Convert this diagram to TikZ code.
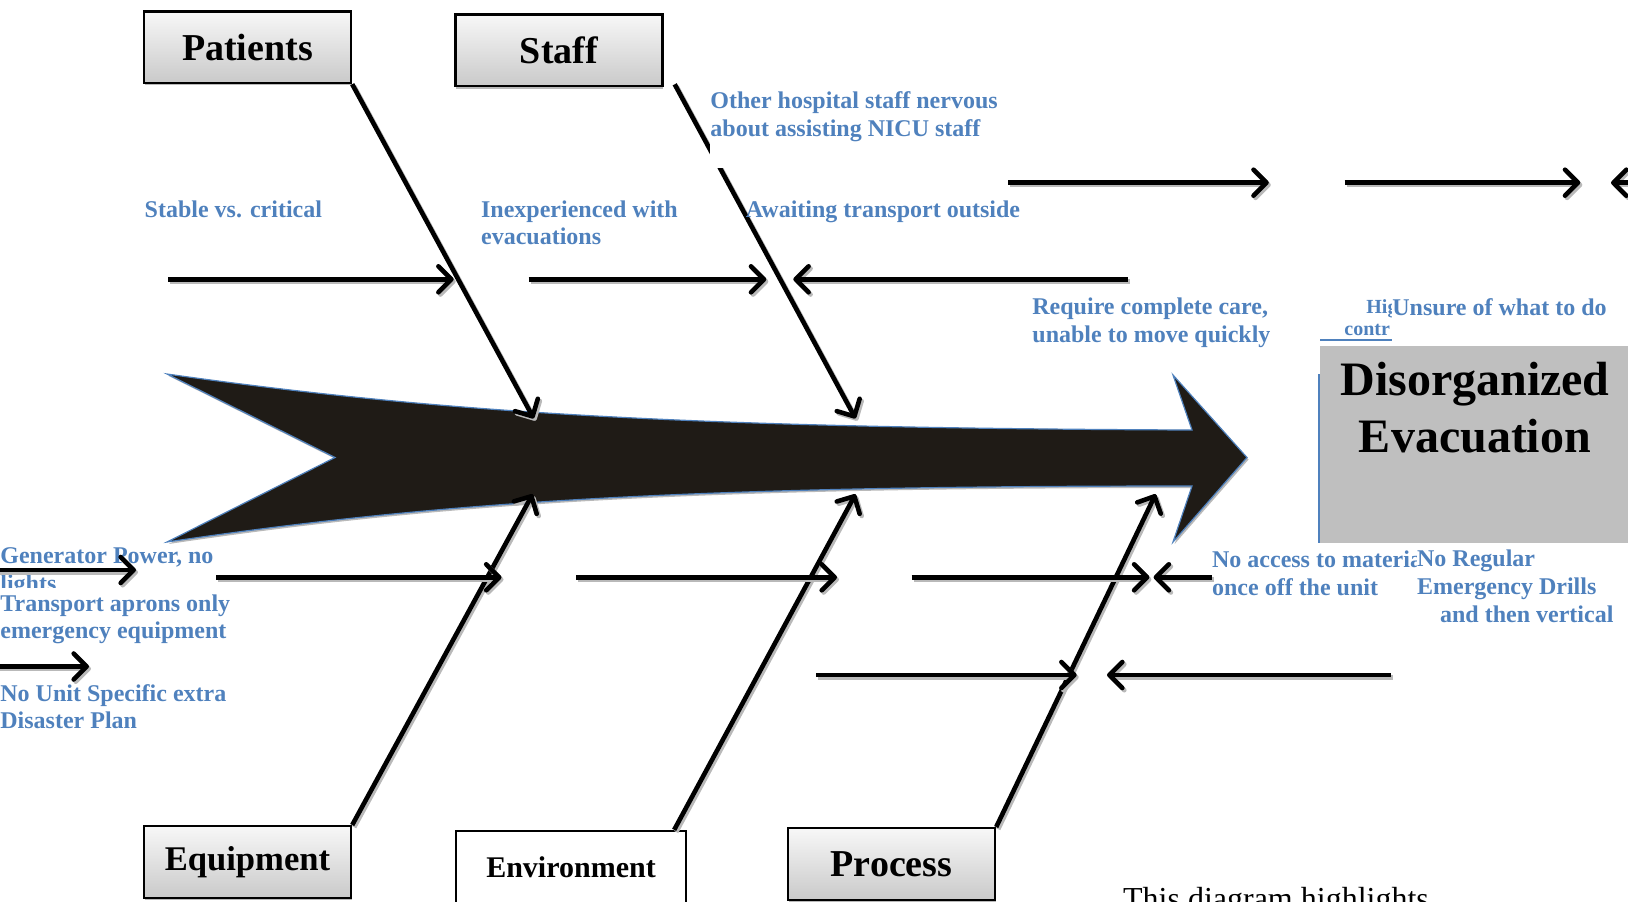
\documentclass[tikz,border=0pt]{standalone}
\usepackage{fontspec}
\setmainfont{Liberation Serif}
\usetikzlibrary{arrows.meta,calc}
\definecolor{fishblue}{RGB}{79,129,189}
\definecolor{bodyfill}{RGB}{31,27,22}
\definecolor{effectgray}{RGB}{191,191,191}
\tikzset{
  cat/.style={draw=black, line width=1.2pt, top color=gray!6, bottom color=gray!42,
    minimum width=103.5pt, minimum height=35.8pt, inner sep=0pt,
    font=\fontsize{19}{21}\selectfont\bfseries,
    preaction={fill=gray!55, transform canvas={shift={(0.4pt,-1.2pt)}}}},
  lbl/.style={text=fishblue, font=\fontsize{12}{13.8}\selectfont\bfseries,
    align=left, inner sep=0pt, anchor=base west, yshift=-1pt},
  smalllbl/.style={text=fishblue, font=\fontsize{10}{11}\selectfont\bfseries,
    inner sep=0pt, anchor=base west},
  rib/.style={line width=2.3pt, -{Straight Barb[length=6.5pt,width=13pt,round]}},
  shadowed/.style={preaction={draw=gray!55, line width=2.3pt, transform canvas={shift={(1pt,-1.1pt)}}}},
}
\begin{document}
\begin{tikzpicture}[x=0.5pt,y=-0.5pt]
\useasboundingbox (0,0) rectangle (1628,901);
\clip (0,0) rectangle (1628,901);

% fish body
\path[fill=gray!55, transform canvas={shift={(0.8pt,-1pt)}}]
  (167,374) .. controls (450,414) and (700,428) .. (1192,430) -- (1173,375) -- (1247,457.5)
  -- (1173,542) -- (1192,486) .. controls (700,486) and (450,500) .. (167,542) -- (335,457.5) -- cycle;
\path[fill=bodyfill, draw=fishblue, line width=0.6pt]
  (167,374) .. controls (450,414) and (700,428) .. (1192,430) -- (1173,375) -- (1247,457.5)
  -- (1173,542) -- (1192,486) .. controls (700,486) and (450,500) .. (167,542) -- (335,457.5) -- cycle;

% effect box
\node[fill=effectgray, minimum width=154pt, minimum height=98.2pt, anchor=north west, inner sep=0pt] (effect) at (1320,345.7) {};
\draw[fishblue, line width=0.8pt] (1319,374) -- (1319,542.7);
\draw[fishblue, line width=0.8pt] (1320,340) -- (1392,340);
\node[font=\fontsize{24}{28.5}\selectfont\bfseries, align=center, inner sep=0pt] (effecttext) at (1475,408) {Disorganized\\Evacuation};

% category boxes
\node[cat] (pat) at (247.5,47.2) {Patients};
\node[cat] (staff) at (559,50.3) {Staff};
\node[cat, font=\fontsize{17.3}{20}\selectfont\bfseries] (equip) at (247.5,862) {Equipment};
\node[draw=black, line width=1.2pt, fill=white, minimum width=115pt, minimum height=36pt, inner sep=0pt,
  font=\fontsize{15}{17}\selectfont\bfseries] (env) at (571,867) {Environment};
\node[cat] (proc) at (891.5,864) {Process};

% tips on the spine
\coordinate (pt1) at (533.7,418.4);
\coordinate (st1) at (855.5,418.4);
\coordinate (eq1) at (532.6,494.2);
\coordinate (en1) at (855.5,494.2);
\coordinate (pr1) at (1155.6,494.2);

% main bones
\draw[rib, shadowed] (pat.south east) -- (pt1);
\draw[rib, shadowed] ($(staff.south east)+(11,-3)$) -- (st1);
\draw[rib, shadowed] (equip.north east) -- (eq1);
\draw[rib, shadowed] ($(env.north east)+(-13,0)$) -- (en1);
\draw[rib, shadowed] (proc.north east) -- (pr1);

% texts that get partly covered
\node[smalllbl] (hig) at (1366,313) {Hig};
\node[smalllbl] (contr) at (1344,335) {contr};
\node[lbl] (access) at (1211.7,593) {No access to materials\\once off the unit};
\node[lbl] (gen) at (0,589.5) {Generator Power, no\\lights};

% covering text boxes
\fill[white] (710,86) rectangle (1010,168);
\fill[white] (1392,288) rectangle (1628,344);
\fill[white] (1416.7,544) rectangle (1628,632);
\fill[white] (0,588) rectangle (240,648);

% labels (anchored at the baseline of their last line)
\node[lbl] (other) at (710,134) {Other hospital staff nervous\\about assisting NICU staff};
\node[lbl] (stable) at (144.3,215.7) {Stable vs. critical};
\node[lbl] (inexp) at (480.7,242.7) {Inexperienced with\\evacuations};
\node[lbl] (await) at (745.5,215.7) {Awaiting transport outside};
\node[lbl] (require) at (1032,340.3) {Require complete care,\\unable to move quickly};
\node[lbl] (unsure) at (1392,313) {Unsure of what to do};
\node[lbl] (drills) at (1416.7,620) {No Regular\\Emergency Drills\\\hspace*{11.5pt}and then vertical};
\node[lbl] (aprons) at (0,636.7) {Transport aprons only\\emergency equipment};
\node[lbl] (plan) at (0,726.7) {No Unit Specific extra\\Disaster Plan};
\node[font=\fontsize{16}{19}\selectfont, anchor=base west, inner sep=0pt] (note) at (1122.7,909) {This diagram highlights};

% cause arrows
\coordinate (h1a) at (168,279.3);    \coordinate (h1b) at (453.7,279.3);
\coordinate (h2a) at (528.5,279.3);  \coordinate (h2b) at (766.3,279.3);
\coordinate (h3a) at (1127.6,279.3); \coordinate (h3b) at (793.3,279.3);
\coordinate (t1a) at (1008,182.7);   \coordinate (t1b) at (1268.8,182.7);
\coordinate (t2a) at (1344.6,182.7); \coordinate (t2b) at (1580.3,182.7);
\coordinate (t3a) at (1670,182.7);   \coordinate (t3b) at (1611,182.7);
\coordinate (l0a) at (-5,570);       \coordinate (l0b) at (136,570);
\coordinate (l1a) at (216,577.3);    \coordinate (l1b) at (501.5,577.3);
\coordinate (l2a) at (576,577.3);    \coordinate (l2b) at (837,577.3);
\coordinate (l3a) at (911.6,577.3);  \coordinate (l3b) at (1149.4,577.3);
\coordinate (l4a) at (1211.7,577.3); \coordinate (l4b) at (1153.6,577.3);
\coordinate (m0a) at (-5,666.5);     \coordinate (m0b) at (89,666.5);
\coordinate (m1a) at (816,675);      \coordinate (m1b) at (1076.7,675);
\coordinate (m2a) at (1391,675);     \coordinate (m2b) at (1107,675);

\foreach \s/\e in {h1a/h1b,h2a/h2b,h3a/h3b,t1a/t1b,t2a/t2b,t3a/t3b,l0a/l0b,l1a/l1b,l2a/l2b,l3a/l3b,l4a/l4b,m0a/m0b,m1a/m1b,m2a/m2b}
  \draw[rib, shadowed] (\s) -- (\e);
\end{tikzpicture}
\end{document}
